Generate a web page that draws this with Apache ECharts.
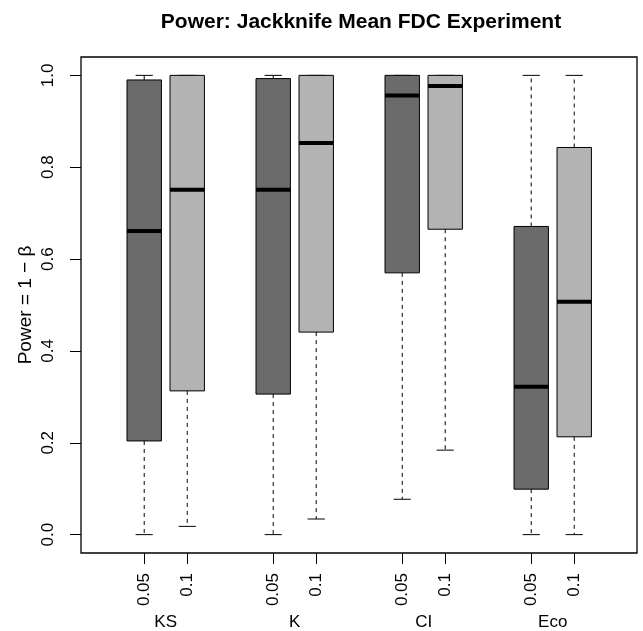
<!DOCTYPE html>
<html>
<head>
<meta charset="utf-8">
<script src="https://cdn.jsdelivr.net/npm/echarts@6/dist/echarts.min.js"></script>
<style>
  html, body { margin: 0; padding: 0; background: #fff; }
  #chart { width: 643px; height: 631px; }
</style>
</head>
<body>
<div id="chart"></div>
<script>
// groups and levels
const groups = ["KS", "K", "CI", "Eco"]
const alphas = ["0.05", "0.1"]
// box positions on the x axis (R "at")
const positions = [1, 2, 4, 5, 7, 8, 10, 11]

// five-number summaries
const lowerWhisker = [0.0, 0.018, 0.0, 0.034, 0.077, 0.184, 0.0, 0.0]
const lowerHinge = [0.204, 0.313, 0.306, 0.441, 0.570, 0.665, 0.099, 0.213]
const median = [0.661, 0.751, 0.751, 0.853, 0.956, 0.977, 0.322, 0.507]
const upperHinge = [0.990, 1.0, 0.993, 1.0, 1.0, 1.0, 0.671, 0.843]
const upperWhisker = [1.0, 1.0, 1.0, 1.0, 1.0, 1.0, 1.0, 1.0]

const yTicks = [0, 0.2, 0.4, 0.6, 0.8, 1.0]

const boxFill = ["#6b6b6b", "#b3b3b3"] // 0.05 dark, 0.1 light
const boxWidth = 0.8
const font = "Liberation Sans"

const groupCenters = groups.map((g, i) => (positions[2 * i] + positions[2 * i + 1]) / 2)

const boxData = positions.map((p, i) => [
  p, lowerWhisker[i], lowerHinge[i], median[i], upperHinge[i], upperWhisker[i]
])

// R style box: dashed whiskers, half-width staples, thick median
function renderBox(params, api) {
  const x = api.value(0)
  const lo = api.coord([x, api.value(1)])
  const q1 = api.coord([x, api.value(2)])
  const md = api.coord([x, api.value(3)])
  const q3 = api.coord([x, api.value(4)])
  const hi = api.coord([x, api.value(5)])
  const half = api.size([boxWidth, 0])[0] / 2
  const cap = half / 2
  const cx = md[0]
  const dash = { stroke: "#000", lineWidth: 1, lineDash: [4, 4] }
  const solid = { stroke: "#000", lineWidth: 1 }

  return {
    type: "group",
    children: [
      { type: "line", shape: { x1: cx, y1: q3[1], x2: cx, y2: hi[1] }, style: dash },
      { type: "line", shape: { x1: cx, y1: q1[1], x2: cx, y2: lo[1] }, style: dash },
      { type: "line", shape: { x1: cx - cap, y1: hi[1], x2: cx + cap, y2: hi[1] }, style: solid },
      { type: "line", shape: { x1: cx - cap, y1: lo[1], x2: cx + cap, y2: lo[1] }, style: solid },
      {
        type: "rect",
        shape: { x: cx - half, y: q3[1], width: half * 2, height: q1[1] - q3[1] },
        style: { fill: boxFill[params.dataIndex % 2], stroke: "#000", lineWidth: 1 }
      },
      { type: "line", shape: { x1: cx - half, y1: md[1], x2: cx + half, y2: md[1] }, style: { stroke: "#000", lineWidth: 4 } }
    ]
  }
}

const chart = echarts.init(document.getElementById("chart"))

chart.setOption({
  animation: false,
  backgroundColor: "#fff",
  title: {
    text: "Power: Jackknife Mean FDC Experiment",
    left: 356,
    textAlign: "center",
    top: 7,
    textStyle: { fontFamily: font, fontSize: 21, fontWeight: "bold", color: "#000" }
  },
  grid: {
    left: 81,
    right: 6,
    top: 57,
    bottom: 78,
    show: true,
    borderColor: "#000",
    borderWidth: 1.3,
    backgroundColor: "transparent"
  },
  xAxis: [
    {
      type: "value",
      min: -0.47,
      max: 12.46,
      axisLine: { show: false, onZero: false },
      splitLine: { show: false },
      axisTick: { show: true, length: 11, customValues: positions, lineStyle: { color: "#000" } },
      axisLabel: {
        customValues: positions,
        rotate: 90,
        margin: 20,
        fontFamily: font,
        fontSize: 17,
        color: "#000",
        formatter: (v) => alphas[positions.indexOf(v) % 2]
      }
    },
    {
      type: "value",
      position: "bottom",
      min: -0.47,
      max: 12.46,
      axisLine: { show: false, onZero: false },
      splitLine: { show: false },
      axisTick: { show: false },
      axisLabel: {
        customValues: groupCenters,
        margin: 61,
        fontFamily: font,
        fontSize: 17,
        color: "#000",
        formatter: (v) => groups[groupCenters.indexOf(v)]
      }
    }
  ],
  yAxis: {
    type: "value",
    min: -0.04,
    max: 1.04,
    name: "Power = 1 \u2212 \u03b2",
    nameLocation: "middle",
    nameRotate: 90,
    nameGap: 46,
    nameMoveOverlap: false,
    nameTextStyle: { fontFamily: font, fontSize: 19, color: "#000" },
    axisLine: { show: false, onZero: false },
    splitLine: { show: false },
    axisTick: { show: true, length: 11, customValues: yTicks, lineStyle: { color: "#000" } },
    axisLabel: {
      customValues: yTicks,
      rotate: 90,
      margin: 24,
      fontFamily: font,
      fontSize: 17,
      color: "#000",
      formatter: (v) => v.toFixed(1)
    }
  },
  series: [
    {
      type: "custom",
      xAxisIndex: 0,
      renderItem: renderBox,
      data: boxData,
      encode: { x: 0, y: [1, 2, 3, 4, 5] },
      clip: false
    }
  ]
})
</script>
</body>
</html>
